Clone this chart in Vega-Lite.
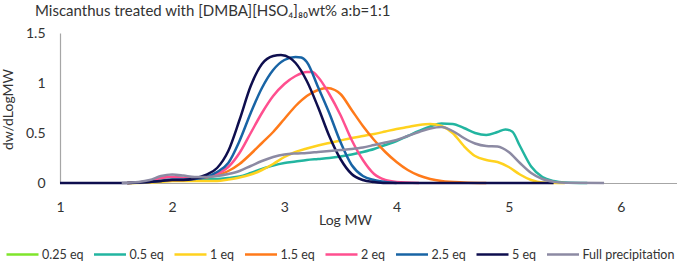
{
  "$schema": "https://vega.github.io/schema/vega-lite/v6.json",
  "width": 617,
  "height": 150,
  "autosize": {"type": "none"},
  "padding": {"left": 60, "top": 33, "right": 0, "bottom": 80},
  "config": {"font": "Lato", "view": {"stroke": null}},
  "title": {
    "text": "Miscanthus treated with [DMBA][HSO₄]₈₀wt% a:b=1:1",
    "anchor": "start",
    "frame": "group",
    "dx": -25,
    "offset": 7,
    "fontSize": 15,
    "fontWeight": "normal",
    "color": "#333333"
  },
  "datasets": {
    "gpc": [
      {"s":"0.5 eq","x":1.6,"y":0},{"s":"0.5 eq","x":1.7,"y":0.005},{"s":"0.5 eq","x":1.8,"y":0.02},{"s":"0.5 eq","x":1.9,"y":0.05},{"s":"0.5 eq","x":2.0,"y":0.06},{"s":"0.5 eq","x":2.1,"y":0.05},{"s":"0.5 eq","x":2.2,"y":0.04},{"s":"0.5 eq","x":2.3,"y":0.04},{"s":"0.5 eq","x":2.4,"y":0.04},{"s":"0.5 eq","x":2.5,"y":0.05},{"s":"0.5 eq","x":2.6,"y":0.065},{"s":"0.5 eq","x":2.7,"y":0.1},{"s":"0.5 eq","x":2.8,"y":0.14},{"s":"0.5 eq","x":2.9,"y":0.175},{"s":"0.5 eq","x":3.0,"y":0.2},{"s":"0.5 eq","x":3.1,"y":0.215},{"s":"0.5 eq","x":3.2,"y":0.23},{"s":"0.5 eq","x":3.3,"y":0.24},{"s":"0.5 eq","x":3.4,"y":0.25},{"s":"0.5 eq","x":3.5,"y":0.265},{"s":"0.5 eq","x":3.6,"y":0.285},{"s":"0.5 eq","x":3.7,"y":0.31},{"s":"0.5 eq","x":3.8,"y":0.34},{"s":"0.5 eq","x":3.9,"y":0.38},{"s":"0.5 eq","x":4.0,"y":0.42},{"s":"0.5 eq","x":4.1,"y":0.47},{"s":"0.5 eq","x":4.2,"y":0.52},{"s":"0.5 eq","x":4.3,"y":0.565},{"s":"0.5 eq","x":4.4,"y":0.595},{"s":"0.5 eq","x":4.5,"y":0.59},{"s":"0.5 eq","x":4.6,"y":0.55},{"s":"0.5 eq","x":4.7,"y":0.5},{"s":"0.5 eq","x":4.8,"y":0.48},{"s":"0.5 eq","x":4.9,"y":0.51},{"s":"0.5 eq","x":4.97,"y":0.535},{"s":"0.5 eq","x":5.03,"y":0.515},{"s":"0.5 eq","x":5.1,"y":0.37},{"s":"0.5 eq","x":5.2,"y":0.165},{"s":"0.5 eq","x":5.3,"y":0.06},{"s":"0.5 eq","x":5.4,"y":0.02},{"s":"0.5 eq","x":5.5,"y":0.005},{"s":"0.5 eq","x":5.7,"y":0},

      {"s":"1 eq","x":1.6,"y":0},{"s":"1 eq","x":1.8,"y":0.005},{"s":"1 eq","x":1.9,"y":0.01},{"s":"1 eq","x":2.0,"y":0.02},{"s":"1 eq","x":2.2,"y":0.02},{"s":"1 eq","x":2.4,"y":0.02},{"s":"1 eq","x":2.5,"y":0.035},{"s":"1 eq","x":2.6,"y":0.055},{"s":"1 eq","x":2.7,"y":0.085},{"s":"1 eq","x":2.8,"y":0.13},{"s":"1 eq","x":2.9,"y":0.19},{"s":"1 eq","x":3.0,"y":0.26},{"s":"1 eq","x":3.1,"y":0.31},{"s":"1 eq","x":3.2,"y":0.345},{"s":"1 eq","x":3.3,"y":0.375},{"s":"1 eq","x":3.4,"y":0.4},{"s":"1 eq","x":3.5,"y":0.425},{"s":"1 eq","x":3.6,"y":0.45},{"s":"1 eq","x":3.7,"y":0.47},{"s":"1 eq","x":3.8,"y":0.49},{"s":"1 eq","x":3.9,"y":0.515},{"s":"1 eq","x":4.0,"y":0.54},{"s":"1 eq","x":4.1,"y":0.56},{"s":"1 eq","x":4.2,"y":0.58},{"s":"1 eq","x":4.3,"y":0.59},{"s":"1 eq","x":4.4,"y":0.57},{"s":"1 eq","x":4.5,"y":0.5},{"s":"1 eq","x":4.6,"y":0.37},{"s":"1 eq","x":4.7,"y":0.27},{"s":"1 eq","x":4.8,"y":0.23},{"s":"1 eq","x":4.9,"y":0.21},{"s":"1 eq","x":5.0,"y":0.16},{"s":"1 eq","x":5.1,"y":0.085},{"s":"1 eq","x":5.2,"y":0.03},{"s":"1 eq","x":5.3,"y":0.005},{"s":"1 eq","x":5.5,"y":0},

      {"s":"1.5 eq","x":1.6,"y":0},{"s":"1.5 eq","x":1.8,"y":0.01},{"s":"1.5 eq","x":1.9,"y":0.02},{"s":"1.5 eq","x":2.0,"y":0.03},{"s":"1.5 eq","x":2.1,"y":0.03},{"s":"1.5 eq","x":2.2,"y":0.04},{"s":"1.5 eq","x":2.3,"y":0.055},{"s":"1.5 eq","x":2.4,"y":0.08},{"s":"1.5 eq","x":2.5,"y":0.12},{"s":"1.5 eq","x":2.6,"y":0.19},{"s":"1.5 eq","x":2.7,"y":0.29},{"s":"1.5 eq","x":2.8,"y":0.4},{"s":"1.5 eq","x":2.9,"y":0.51},{"s":"1.5 eq","x":3.0,"y":0.64},{"s":"1.5 eq","x":3.1,"y":0.77},{"s":"1.5 eq","x":3.2,"y":0.87},{"s":"1.5 eq","x":3.3,"y":0.93},{"s":"1.5 eq","x":3.38,"y":0.95},{"s":"1.5 eq","x":3.45,"y":0.93},{"s":"1.5 eq","x":3.5,"y":0.89},{"s":"1.5 eq","x":3.6,"y":0.73},{"s":"1.5 eq","x":3.7,"y":0.57},{"s":"1.5 eq","x":3.8,"y":0.43},{"s":"1.5 eq","x":3.9,"y":0.31},{"s":"1.5 eq","x":4.0,"y":0.21},{"s":"1.5 eq","x":4.1,"y":0.13},{"s":"1.5 eq","x":4.2,"y":0.075},{"s":"1.5 eq","x":4.3,"y":0.04},{"s":"1.5 eq","x":4.4,"y":0.02},{"s":"1.5 eq","x":4.6,"y":0.005},{"s":"1.5 eq","x":4.8,"y":0},

      {"s":"2 eq","x":1.6,"y":0},{"s":"2 eq","x":1.8,"y":0.02},{"s":"2 eq","x":1.9,"y":0.05},{"s":"2 eq","x":2.0,"y":0.06},{"s":"2 eq","x":2.1,"y":0.05},{"s":"2 eq","x":2.2,"y":0.05},{"s":"2 eq","x":2.3,"y":0.06},{"s":"2 eq","x":2.4,"y":0.09},{"s":"2 eq","x":2.5,"y":0.16},{"s":"2 eq","x":2.6,"y":0.3},{"s":"2 eq","x":2.7,"y":0.5},{"s":"2 eq","x":2.8,"y":0.7},{"s":"2 eq","x":2.9,"y":0.87},{"s":"2 eq","x":3.0,"y":0.99},{"s":"2 eq","x":3.1,"y":1.07},{"s":"2 eq","x":3.2,"y":1.11},{"s":"2 eq","x":3.25,"y":1.11},{"s":"2 eq","x":3.3,"y":1.06},{"s":"2 eq","x":3.4,"y":0.89},{"s":"2 eq","x":3.5,"y":0.68},{"s":"2 eq","x":3.6,"y":0.43},{"s":"2 eq","x":3.7,"y":0.23},{"s":"2 eq","x":3.8,"y":0.09},{"s":"2 eq","x":3.9,"y":0.03},{"s":"2 eq","x":4.0,"y":0.01},{"s":"2 eq","x":4.2,"y":0},

      {"s":"2.5 eq","x":1.6,"y":0},{"s":"2.5 eq","x":1.9,"y":0.02},{"s":"2.5 eq","x":2.0,"y":0.035},{"s":"2.5 eq","x":2.1,"y":0.035},{"s":"2.5 eq","x":2.2,"y":0.04},{"s":"2.5 eq","x":2.3,"y":0.06},{"s":"2.5 eq","x":2.4,"y":0.11},{"s":"2.5 eq","x":2.5,"y":0.2},{"s":"2.5 eq","x":2.6,"y":0.42},{"s":"2.5 eq","x":2.7,"y":0.7},{"s":"2.5 eq","x":2.8,"y":0.95},{"s":"2.5 eq","x":2.9,"y":1.13},{"s":"2.5 eq","x":3.0,"y":1.23},{"s":"2.5 eq","x":3.1,"y":1.26},{"s":"2.5 eq","x":3.15,"y":1.255},{"s":"2.5 eq","x":3.2,"y":1.21},{"s":"2.5 eq","x":3.3,"y":0.96},{"s":"2.5 eq","x":3.4,"y":0.7},{"s":"2.5 eq","x":3.5,"y":0.41},{"s":"2.5 eq","x":3.6,"y":0.18},{"s":"2.5 eq","x":3.7,"y":0.07},{"s":"2.5 eq","x":3.8,"y":0.03},{"s":"2.5 eq","x":3.9,"y":0.01},{"s":"2.5 eq","x":4.0,"y":0},

      {"s":"5 eq","x":1.0,"y":0},{"s":"5 eq","x":1.5,"y":0},{"s":"5 eq","x":1.7,"y":0.005},{"s":"5 eq","x":1.9,"y":0.02},{"s":"5 eq","x":2.0,"y":0.03},{"s":"5 eq","x":2.1,"y":0.03},{"s":"5 eq","x":2.2,"y":0.045},{"s":"5 eq","x":2.3,"y":0.08},{"s":"5 eq","x":2.4,"y":0.15},{"s":"5 eq","x":2.5,"y":0.32},{"s":"5 eq","x":2.6,"y":0.63},{"s":"5 eq","x":2.7,"y":0.97},{"s":"5 eq","x":2.8,"y":1.19},{"s":"5 eq","x":2.9,"y":1.27},{"s":"5 eq","x":2.97,"y":1.28},{"s":"5 eq","x":3.05,"y":1.25},{"s":"5 eq","x":3.1,"y":1.2},{"s":"5 eq","x":3.2,"y":1.02},{"s":"5 eq","x":3.3,"y":0.76},{"s":"5 eq","x":3.4,"y":0.47},{"s":"5 eq","x":3.5,"y":0.24},{"s":"5 eq","x":3.6,"y":0.09},{"s":"5 eq","x":3.7,"y":0.03},{"s":"5 eq","x":3.8,"y":0.01},{"s":"5 eq","x":3.9,"y":0},{"s":"5 eq","x":5.4,"y":0},

      {"s":"Full precipitation","x":1.55,"y":0},{"s":"Full precipitation","x":1.7,"y":0.01},{"s":"Full precipitation","x":1.8,"y":0.03},{"s":"Full precipitation","x":1.9,"y":0.07},{"s":"Full precipitation","x":2.0,"y":0.085},{"s":"Full precipitation","x":2.1,"y":0.075},{"s":"Full precipitation","x":2.2,"y":0.06},{"s":"Full precipitation","x":2.3,"y":0.06},{"s":"Full precipitation","x":2.4,"y":0.07},{"s":"Full precipitation","x":2.5,"y":0.09},{"s":"Full precipitation","x":2.6,"y":0.12},{"s":"Full precipitation","x":2.7,"y":0.17},{"s":"Full precipitation","x":2.8,"y":0.22},{"s":"Full precipitation","x":2.9,"y":0.26},{"s":"Full precipitation","x":3.0,"y":0.285},{"s":"Full precipitation","x":3.1,"y":0.295},{"s":"Full precipitation","x":3.2,"y":0.3},{"s":"Full precipitation","x":3.3,"y":0.31},{"s":"Full precipitation","x":3.4,"y":0.32},{"s":"Full precipitation","x":3.5,"y":0.33},{"s":"Full precipitation","x":3.6,"y":0.34},{"s":"Full precipitation","x":3.7,"y":0.355},{"s":"Full precipitation","x":3.8,"y":0.38},{"s":"Full precipitation","x":3.9,"y":0.405},{"s":"Full precipitation","x":4.0,"y":0.43},{"s":"Full precipitation","x":4.1,"y":0.47},{"s":"Full precipitation","x":4.2,"y":0.51},{"s":"Full precipitation","x":4.3,"y":0.545},{"s":"Full precipitation","x":4.4,"y":0.56},{"s":"Full precipitation","x":4.5,"y":0.52},{"s":"Full precipitation","x":4.6,"y":0.45},{"s":"Full precipitation","x":4.7,"y":0.395},{"s":"Full precipitation","x":4.8,"y":0.37},{"s":"Full precipitation","x":4.9,"y":0.365},{"s":"Full precipitation","x":5.0,"y":0.31},{"s":"Full precipitation","x":5.1,"y":0.2},{"s":"Full precipitation","x":5.2,"y":0.1},{"s":"Full precipitation","x":5.3,"y":0.04},{"s":"Full precipitation","x":5.4,"y":0.013},{"s":"Full precipitation","x":5.5,"y":0.003},{"s":"Full precipitation","x":5.85,"y":0}
    ]
  },
  "data": {"name": "gpc"},
  "mark": {"type": "line", "interpolate": "monotone", "strokeWidth": 2.5},
  "encoding": {
    "x": {
      "field": "x",
      "type": "quantitative",
      "scale": {"domain": [1, 6.5], "nice": false, "zero": false},
      "axis": {
        "values": [1, 2, 3, 4, 5, 6],
        "title": "Log MW",
        "titleFontWeight": "normal",
        "titleFontSize": 14,
        "titleColor": "#333333",
        "titleX": 285,
        "titleY": 37,
        "titleBaseline": "middle",
        "labelFontSize": 14,
        "labelColor": "#333333",
        "labelPadding": 17,
        "labelFlush": false,
        "ticks": false,
        "grid": false,
        "domainColor": "#A6A6A6",
        "domainWidth": 1.2
      }
    },
    "y": {
      "field": "y",
      "type": "quantitative",
      "scale": {"domain": [0, 1.5], "nice": false},
      "axis": {
        "values": [0, 0.5, 1, 1.5],
        "format": "~g",
        "title": "dw/dLogMW",
        "titleFontWeight": "normal",
        "titleFontSize": 14,
        "titleColor": "#333333",
        "titleAngle": -90,
        "titleX": -52,
        "titleY": 76,
        "titleAlign": "center",
        "titleBaseline": "middle",
        "labelFontSize": 14,
        "labelColor": "#333333",
        "labelPadding": 15,
        "ticks": false,
        "grid": false,
        "domainColor": "#A6A6A6",
        "domainWidth": 1.2
      }
    },
    "color": {
      "field": "s",
      "type": "nominal",
      "scale": {
        "domain": ["0.25 eq", "0.5 eq", "1 eq", "1.5 eq", "2 eq", "2.5 eq", "5 eq", "Full precipitation"],
        "range": ["#7FE52B", "#22B5A0", "#FFD21F", "#FF7A1A", "#FF4F8F", "#1864A5", "#0E0E4E", "#8C8AA3"]
      },
      "legend": {
        "title": null,
        "orient": "none",
        "legendX": -55,
        "legendY": 204,
        "direction": "horizontal",
        "columns": 8,
        "symbolType": "stroke",
        "symbolSize": 1024,
        "symbolStrokeWidth": 2.5,
        "labelFontSize": 12.5,
        "labelColor": "#333333",
        "labelOffset": 2,
        "columnPadding": 4.5
      }
    }
  }
}
